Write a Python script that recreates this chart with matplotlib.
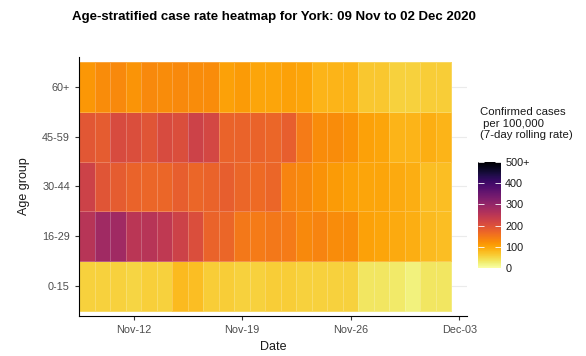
import numpy as np
import pandas as pd
import matplotlib
matplotlib.use("Agg")
import matplotlib.pyplot as plt
import matplotlib.dates as mdates
from matplotlib.colors import Normalize

plt.rcParams['font.family'] = ['Liberation Sans', 'DejaVu Sans']

dates = pd.date_range("2020-11-09", "2020-12-02", freq="D")
age_groups = ["0-15", "16-29", "30-44", "45-59", "60+"]

rate_0_15 = [55, 55, 55, 52, 58, 55, 80, 75, 60, 60, 55, 55, 60, 60, 55, 55,
             55, 55, 35, 35, 30, 20, 35, 35]
rate_16_29 = [255, 285, 285, 250, 255, 245, 225, 205, 175, 170, 150, 145, 150, 145, 130, 135,
              125, 125, 105, 100, 95, 90, 80, 75]
rate_30_44 = [225, 195, 185, 175, 170, 170, 180, 170, 175, 180, 170, 165, 170, 135, 130, 120,
              110, 105, 100, 100, 95, 90, 75, 75]
rate_45_59 = [190, 185, 210, 205, 195, 210, 205, 225, 215, 175, 175, 175, 170, 180, 145, 125,
              125, 120, 105, 100, 85, 85, 90, 85]
rate_60p = [115, 125, 130, 118, 130, 125, 130, 125, 125, 105, 110, 100, 100, 105, 100, 85,
            85, 85, 65, 65, 55, 55, 60, 60]

cbar_ticks = [0, 100, 200, 300, 400, 500]
cbar_labels = ["0", "100", "200", "300", "400", "500+"]

Z = np.array([rate_0_15, rate_16_29, rate_30_44, rate_45_59, rate_60p], dtype=float)

fig = plt.figure(figsize=(5.86, 3.56), dpi=100)
W, H = 586, 356
ax = fig.add_axes([79 / W, 1 - 316 / H, (467 - 79) / W, (316 - 57) / H])

xnum = mdates.date2num(dates)
xedges = np.concatenate([xnum - 0.5, [xnum[-1] + 0.5]])
yedges = np.arange(len(age_groups) + 1) - 0.5

norm = Normalize(vmin=0, vmax=500)
cmap = plt.get_cmap("inferno_r")
mesh = ax.pcolormesh(xedges, yedges, Z, cmap=cmap, norm=norm,
                     edgecolors=(1, 1, 1, 0.22), linewidth=0.5, zorder=2)

for i in range(len(age_groups)):
    ax.axhline(i, color="#ebebeb", lw=0.8, zorder=1)

ax.set_xlim(xnum[0] - 0.52, xnum[-1] + 1.5)
ax.set_ylim(-0.6, len(age_groups) - 0.4)
ax.set_yticks(range(len(age_groups)))
ax.set_yticklabels(age_groups)
tick_dates = pd.to_datetime(["2020-11-12", "2020-11-19", "2020-11-26", "2020-12-03"])
ax.set_xticks(mdates.date2num(tick_dates))
ax.xaxis.set_major_formatter(mdates.DateFormatter("%b-%d"))

for s in ["top", "right"]:
    ax.spines[s].set_visible(False)
for s in ["left", "bottom"]:
    ax.spines[s].set_color("black")
    ax.spines[s].set_linewidth(0.8)
ax.tick_params(axis="both", colors="#333333", labelcolor="#4d4d4d", labelsize=7.8,
               length=3, width=0.8)
ax.set_xlabel("Date", fontsize=9, color="#1a1a1a", labelpad=4)
ax.set_ylabel("Age group", fontsize=9, color="#1a1a1a", labelpad=9)

fig.text(274 / W, 1 - 17 / H, "Age-stratified case rate heatmap for York: 09 Nov to 02 Dec 2020",
         ha="center", va="center", fontsize=9.5, fontweight="bold", color="black")

cax = fig.add_axes([478 / W, 1 - 268 / H, 23 / W, 106 / H])
sm = plt.cm.ScalarMappable(norm=norm, cmap=cmap)
cb = fig.colorbar(sm, cax=cax, ticks=cbar_ticks)
cb.outline.set_visible(False)
cb.ax.set_yticklabels(cbar_labels)
cb.ax.tick_params(labelsize=7.8, labelcolor="#1a1a1a", color="white", direction="in",
                  length=4, width=0.6, left=True, right=True, pad=3)

fig.text(480 / W, 1 - 107 / H, "Confirmed cases\n per 100,000\n(7-day rolling rate)",
         ha="left", va="top", fontsize=8.2, color="#1a1a1a", linespacing=1.2)

fig.savefig("out.png", dpi=100)
